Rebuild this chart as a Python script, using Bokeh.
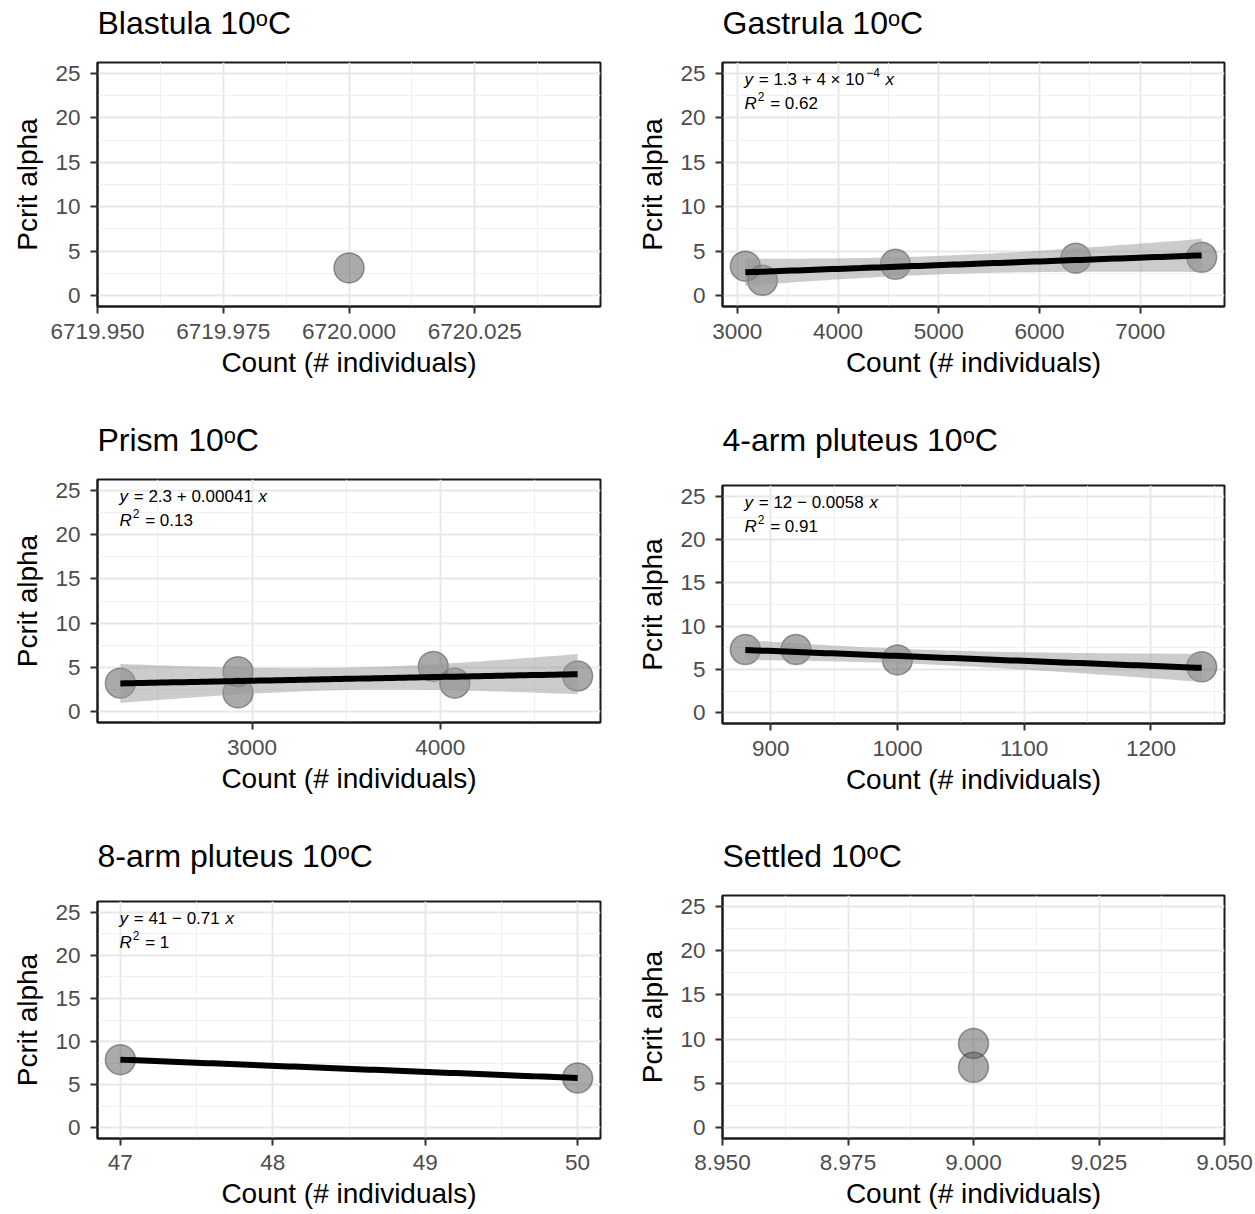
import numpy as np
from bokeh.plotting import figure
from bokeh.layouts import column, row
from bokeh.models import Range1d, FixedTicker, Label
from bokeh.embed import file_html
from bokeh.resources import INLINE

FONT = "Liberation Sans"

# ---------------- data ----------------
titles = ["Blastula 10ᵒC", "Gastrula 10ᵒC", "Prism 10ᵒC",
          "4-arm pluteus 10ᵒC", "8-arm pluteus 10ᵒC", "Settled 10ᵒC"]

blastula_count = [6720]
blastula_pcrit = [3.1]
gastrula_count = [3080, 3250, 4570, 6360, 7610]
gastrula_pcrit = [3.3, 1.7, 3.5, 4.2, 4.3]
prism_count = [2300, 2925, 2925, 3963, 4077, 4730]
prism_pcrit = [3.2, 4.5, 2.1, 5.1, 3.2, 4.0]
arm4_count = [880, 920, 1000, 1240]
arm4_pcrit = [7.3, 7.3, 6.1, 5.3]
arm8_count = [47, 50]
arm8_pcrit = [7.9, 5.77]
settled_count = [9, 9]
settled_pcrit = [9.5, 6.8]

# tick values / labels
blastula_xticks = [6719.950, 6719.975, 6720.000, 6720.025]
blastula_xlabels = ["6719.950", "6719.975", "6720.000", "6720.025"]
gastrula_xticks = [3000, 4000, 5000, 6000, 7000]
gastrula_xlabels = ["3000", "4000", "5000", "6000", "7000"]
prism_xticks = [3000, 4000]
prism_xlabels = ["3000", "4000"]
arm4_xticks = [900, 1000, 1100, 1200]
arm4_xlabels = ["900", "1000", "1100", "1200"]
arm8_xticks = [47, 48, 49, 50]
arm8_xlabels = ["47", "48", "49", "50"]
settled_xticks = [8.950, 8.975, 9.000, 9.025, 9.050]
settled_xlabels = ["8.950", "8.975", "9.000", "9.025", "9.050"]
y_ticks = [0, 5, 10, 15, 20, 25]
y_labels = ["0", "5", "10", "15", "20", "25"]
y_limits = (0, 25)

# regression annotation text: (italic y, body, superscript, italic x)
eq_gastrula = ("y", "= 1.3 + 4 × 10", "−4", "x")
eq_prism = ("y", "= 2.3 + 0.00041", "", "x")
eq_arm4 = ("y", "= 12 − 0.0058", "", "x")
eq_arm8 = ("y", "= 41 − 0.71", "", "x")
r2_gastrula = "0.62"
r2_prism = "0.13"
r2_arm4 = "0.91"
r2_arm8 = "1"

# t(0.975, df) for the 95% confidence band
t975 = {1: 12.706, 2: 4.303, 3: 3.182, 4: 2.776, 5: 2.571}

# ---------------- helpers ----------------
CW = {" ": .278, ".": .278, "=": .584, "+": .584, "−": .584, "×": .584,
      "y": .5, "x": .5, "R": .722}
for d in "0123456789":
    CW[d] = .556


def tw(s, size):
    return sum(CW.get(c, .556) for c in s) * size


def minor_of(ticks):
    if len(ticks) < 2:
        return []
    step = ticks[1] - ticks[0]
    ext = [ticks[0] - step] + list(ticks) + [ticks[-1] + step]
    return [(a + b) / 2 for a, b in zip(ext[:-1], ext[1:])]


def panel(title, xs, ys, xticks, xlabels, width, height, top, bottom, right,
          title_standoff, eq=None, r2=None, smooth=False, xl_standoff=10):
    xs = np.asarray(xs, float)
    ys = np.asarray(ys, float)
    lo, hi = xs.min(), xs.max()
    if hi == lo:
        xr = (lo - 0.05, hi + 0.05)
    else:
        pad = 0.05 * (hi - lo)
        xr = (lo - pad, hi + pad)
    ypad = 0.05 * (y_limits[1] - y_limits[0])
    ytop = y_limits[1] + ypad
    p = figure(width=width, height=height, output_backend="svg",
               toolbar_location=None, tools="",
               x_range=Range1d(*xr), y_range=Range1d(y_limits[0] - ypad, ytop),
               min_border_left=97, min_border_right=right,
               min_border_top=top, min_border_bottom=bottom)
    p.background_fill_color = "white"
    p.border_fill_color = "white"
    p.outline_line_color = "#1a1a1a"
    p.outline_line_width = 2

    p.title.text = title
    p.title.text_font = FONT
    p.title.text_font_size = "32px"
    p.title.text_font_style = "normal"
    p.title.text_color = "black"
    p.title.vertical_align = "top"
    p.title.standoff = title_standoff

    p.xaxis.ticker = FixedTicker(ticks=list(xticks), minor_ticks=minor_of(list(xticks)))
    p.yaxis.ticker = FixedTicker(ticks=list(y_ticks), minor_ticks=minor_of(list(y_ticks)))
    p.xaxis.major_label_overrides = {t: l for t, l in zip(xticks, xlabels)}
    p.yaxis.major_label_overrides = {t: l for t, l in zip(y_ticks, y_labels)}
    p.xaxis.axis_label = "Count (# individuals)"
    p.yaxis.axis_label = "Pcrit alpha"
    for ax in (p.xaxis[0], p.yaxis[0]):
        ax.axis_label_text_font = FONT
        ax.axis_label_text_font_size = "28px"
        ax.axis_label_text_font_style = "normal"
        ax.axis_label_text_color = "black"
        ax.major_label_text_font = FONT
        ax.major_label_text_font_size = "22.5px"
        ax.major_label_text_color = "#4d4d4d"
        ax.major_tick_line_color = "#333333"
        ax.major_tick_line_width = 2
        ax.major_tick_out = 7
        ax.major_tick_in = 0
        ax.minor_tick_line_color = None
        ax.axis_line_color = "#1a1a1a"
        ax.axis_line_width = 2
    p.xaxis.major_label_standoff = xl_standoff
    p.xaxis.axis_label_standoff = 5
    p.yaxis.major_label_standoff = 10
    p.yaxis.axis_label_standoff = 9

    for g in (p.xgrid[0], p.ygrid[0]):
        g.grid_line_color = "#e8e8e8"
        g.grid_line_width = 2
        g.minor_grid_line_color = "#f0f0f0"
        g.minor_grid_line_width = 1

    # points
    p.scatter(xs, ys, size=30, fill_color="#555555", fill_alpha=0.5,
              line_color="#333333", line_alpha=0.45, line_width=1.5)

    # linear fit + 95% CI
    if smooth:
        n = len(xs)
        slope, icpt = np.polyfit(xs, ys, 1)
        xg = np.linspace(lo, hi, 80)
        yg = icpt + slope * xg
        df = n - 2
        if df > 0:
            resid = ys - (icpt + slope * xs)
            s = np.sqrt(np.sum(resid ** 2) / df)
            sxx = np.sum((xs - xs.mean()) ** 2)
            se = s * np.sqrt(1.0 / n + (xg - xs.mean()) ** 2 / sxx)
            t = t975[df]
            p.varea(x=xg, y1=yg - t * se, y2=yg + t * se,
                    fill_color="#999999", fill_alpha=0.5)
        p.line(xg, yg, line_width=6, line_color="black")

    # annotation
    if eq is not None:
        fs = 17
        ss = 12
        x0 = 22
        common = dict(x=xr[0], y=ytop, text_font=FONT,
                      text_baseline="middle", text_align="left", text_color="black")
        sp = tw(" ", fs) + 1
        p.add_layout(Label(text=eq[0], x_offset=x0, y_offset=-17, text_font_size=f"{fs}px",
                           text_font_style="italic", **common))
        o = x0 + tw(eq[0], fs) + sp
        p.add_layout(Label(text=eq[1], x_offset=o, y_offset=-17, text_font_size=f"{fs}px",
                           **common))
        o += tw(eq[1], fs)
        if eq[2]:
            o += 2
            p.add_layout(Label(text=eq[2], x_offset=o, y_offset=-10, text_font_size=f"{ss}px",
                               **common))
            o += tw(eq[2], ss)
        o += sp
        p.add_layout(Label(text=eq[3], x_offset=o, y_offset=-17, text_font_size=f"{fs}px",
                           text_font_style="italic", **common))
        p.add_layout(Label(text="R", x_offset=x0, y_offset=-41, text_font_size=f"{fs}px",
                           text_font_style="italic", **common))
        o = x0 + tw("R", fs) + 1
        p.add_layout(Label(text="2", x_offset=o, y_offset=-34, text_font_size=f"{ss}px",
                           **common))
        o += tw("2", ss) + sp
        p.add_layout(Label(text="= " + r2, x_offset=o, y_offset=-41, text_font_size=f"{fs}px",
                           **common))
    return p


W1, W2 = 625, 628
p1 = panel(titles[0], blastula_count, blastula_pcrit, blastula_xticks, blastula_xlabels,
           W1, 402, 78, 80, 25, 40)
p2 = panel(titles[1], gastrula_count, gastrula_pcrit, gastrula_xticks, gastrula_xlabels,
           W2, 402, 78, 80, 29, 40, eq=eq_gastrula, r2=r2_gastrula, smooth=True)
p3 = panel(titles[2], prism_count, prism_pcrit, prism_xticks, prism_xlabels,
           W1, 416, 93, 80, 25, 40, eq=eq_prism, r2=r2_prism, smooth=True)
p4 = panel(titles[3], arm4_count, arm4_pcrit, arm4_xticks, arm4_xlabels,
           W2, 416, 99, 79, 29, 52, eq=eq_arm4, r2=r2_arm4, smooth=True)
p5 = panel(titles[4], arm8_count, arm8_pcrit, arm8_xticks, arm8_xlabels,
           W1, 412, 99, 76, 25, 52, eq=eq_arm8, r2=r2_arm8, smooth=True, xl_standoff=9)
p6 = panel(titles[5], settled_count, settled_pcrit, settled_xticks, settled_xlabels,
           W2, 412, 93, 76, 29, 40, xl_standoff=9)

layout = column(row(column(p1), column(p2)),
                row(column(p3), column(p4)),
                row(column(p5), column(p6)),
                margin=(-16, 0, 0, 0))
open("out.html", "w").write(file_html(layout, INLINE))
